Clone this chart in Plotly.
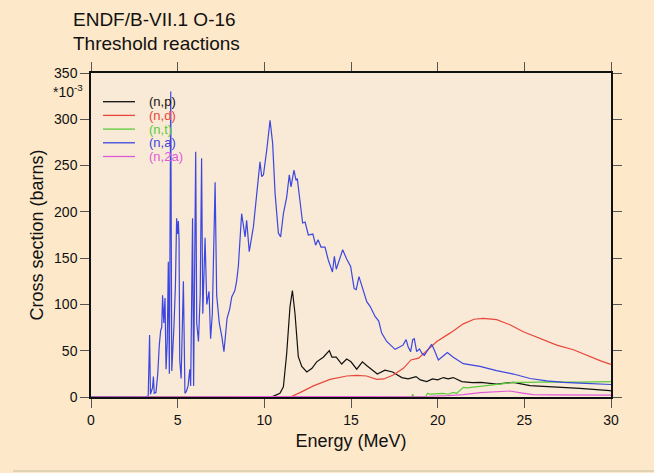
import plotly.graph_objects as go

# ---------------- data (cross sections in units of 1e-3 barns) ----------------
np_energy = [0, 10.4, 10.6, 10.9, 11.1, 11.29, 11.48, 11.62, 11.77, 11.96, 12.16, 12.45, 12.75,
             13.02, 13.4, 13.75, 13.9, 14.15, 14.46, 14.75, 15.0, 15.33, 15.66, 15.9, 16.52,
             16.96, 17.4, 17.93, 18.3, 18.75, 19.0, 19.37, 19.7, 20.0, 20.33, 20.6, 20.9,
             21.39, 22.0, 22.5, 23.4, 24.37, 25.33, 26.3, 27.2, 28.2, 29.94, 30.0]
np_xs = [0, 0, 1.5, 4, 11, 47, 97.5, 115, 90, 43.5, 33, 27, 31,
         38, 43, 50, 43, 43, 35.6, 41, 38, 30, 38, 34, 24.8,
         29, 27, 21, 19.5, 22, 18.5, 16.6, 19.5, 18.5, 21, 19.5, 21,
         16.6, 15.5, 15.8, 14, 15.8, 12.2, 11.5, 10.5, 9.4, 6.8, 6.7]

nd_energy = [0, 11.5, 12.06, 12.83, 13.79, 14.75, 15.33, 15.9, 16.48, 16.9, 17.44, 18.02, 18.46,
             18.9, 19.37, 19.95, 20.71, 21.48, 22.1, 22.63, 23.4, 24.17, 24.94, 25.9, 26.87,
             27.83, 28.79, 29.4, 29.94, 30.0]
nd_xs = [0, 0, 4.7, 12, 19, 22.7, 23.4, 22.7, 19, 19.5, 23.8, 31, 40,
         42, 50, 60, 69, 79, 84, 85, 83.5, 78, 70.5, 63, 56,
         51, 43.5, 39, 35.6, 35.5]

nt_energy = [0, 18.5, 18.56, 18.62, 19.3, 19.42, 19.6, 20.0, 20.3, 20.6, 20.9, 21.1, 21.29,
             21.48, 21.7, 22.5, 23.4, 24.37, 25.3, 26.3, 28.2, 30.0]
nt_xs = [0, 0, 3, 0, 0, 4, 3, 3.5, 4, 3, 5, 4, 7.5,
         10.4, 9.8, 11.5, 14, 15.8, 15.8, 16.3, 16.1, 16.6]

na_energy = [0, 3.1, 3.3, 3.38, 3.43, 3.55, 3.6, 3.65, 3.75, 3.85, 3.94, 4.02, 4.08, 4.13, 4.2,
             4.27, 4.33, 4.4, 4.46, 4.52, 4.6, 4.66, 4.79, 4.87, 4.94, 5.0, 5.04, 5.08, 5.12,
             5.2, 5.33, 5.38, 5.42, 5.5, 5.6, 5.7, 5.75, 5.86, 5.92, 6.04, 6.1, 6.2, 6.3, 6.38,
             6.45, 6.58, 6.68, 6.81, 6.9, 7.0, 7.16, 7.25, 7.4, 7.55, 7.67, 7.85, 8.0, 8.12,
             8.3, 8.4, 8.5, 8.69, 8.89, 8.98, 9.13, 9.37, 9.52, 9.75, 9.85, 9.95, 10.14, 10.33,
             10.48, 10.62, 10.81, 10.94, 11.1, 11.29, 11.44, 11.54, 11.71, 11.83, 11.9, 12.06,
             12.21, 12.35, 12.54, 12.8, 12.96, 13.1, 13.27, 13.5, 13.69, 13.93, 14.04, 14.15,
             14.3, 14.52, 14.75, 14.98, 15.18, 15.3, 15.46, 15.66, 15.91, 16.1, 16.39, 16.6,
             16.77, 17.06, 17.54, 17.8, 18.0, 18.18, 18.3, 18.44, 18.56, 18.65, 18.79, 18.95,
             19.1, 19.23, 19.45, 19.65, 19.8, 20.04, 20.3, 20.56, 20.9, 21.48, 22.44, 23.4,
             24.37, 25.33, 26.3, 27.25, 28.2, 29.94, 30.0]
na_xs = [0, 0, 1, 67, 3, 10, 22, 4, 5, 25, 56, 72, 75, 110, 80,
         107, 30, 60, 146, 25, 330, 28, 78, 120, 193, 176, 190, 170, 40,
         20, 125, 40, 4, 6, 12, 30, 12, 193, 12, 265, 80, 60, 110, 258,
         90, 172, 100, 114, 63, 90, 232, 110, 80, 65, 49, 85, 95, 108,
         115, 125, 141, 198, 173, 191, 157, 184, 209, 254, 238, 240, 267, 299,
         274, 220, 177, 173, 198, 216, 240, 227, 245, 234, 236, 213,
         188, 189, 175, 176, 164, 170, 162, 162, 148, 135, 152, 138,
         146, 159, 149, 141, 117, 116, 130, 117, 103, 98, 87, 82,
         69, 60, 51.5, 54, 56, 62, 54, 49, 62, 63, 49, 52,
         47, 45, 52, 57, 51, 40, 44, 48, 43, 36, 33, 28.5,
         24.8, 20, 17.5, 15.8, 15, 13.7, 13.5]

n2a_energy = [0, 18.2, 19.5, 20.6, 21.5, 22.44, 23.4, 24.17, 24.8, 25.5, 26.5, 28.0, 30.0]
n2a_xs = [0, 0, 0.8, 1.4, 2.5, 4.7, 5.8, 6.5, 4.5, 2.5, 2.2, 2, 2]

series_names = ["(n,p)", "(n,d)", "(n,t)", "(n,a)", "(n,2a)"]
series_colors = ["#111111", "#E8473C", "#5CCB3C", "#3C46E0", "#E05AD8"]
series_energy = [np_energy, nd_energy, nt_energy, na_energy, n2a_energy]
series_xs = [np_xs, nd_xs, nt_xs, na_xs, n2a_xs]

x_ticks = [0, 5, 10, 15, 20, 25, 30]
y_ticks = [0, 50, 100, 150, 200, 250, 300, 350]

FONT = "Liberation Sans, Arial, Helvetica, sans-serif"

fig = go.Figure()
for name, e, s, c in zip(series_names, series_energy, series_xs, series_colors):
    fig.add_trace(go.Scatter(x=e, y=s, mode="lines", name=name,
                             line=dict(color=c, width=1.2), showlegend=False))

# plot-area geometry (pixels) used for the hand-drawn legend
L, R, T, B = 91, 611, 73, 397
W, H = R - L, B - T


def px(xp):
    return (xp - L) / W


def py(yp):
    return (B - yp) / H


shapes = []
annotations = []
for i, (name, c) in enumerate(zip(series_names, series_colors)):
    yy = py(101.7 + 13.7 * i)
    shapes.append(dict(type="line", xref="paper", yref="paper",
                       x0=px(103), x1=px(135), y0=yy, y1=yy,
                       line=dict(color=c, width=1.3)))
    annotations.append(dict(text=name, xref="paper", yref="paper", x=px(147), y=yy,
                            xanchor="left", yanchor="middle", showarrow=False,
                            font=dict(size=13, color=c, family=FONT)))

# title lines
annotations.append(dict(text="ENDF/B-VII.1 O-16", xref="paper", yref="paper",
                        x=px(71), y=py(20), xanchor="left", yanchor="middle",
                        showarrow=False, font=dict(size=19, color="#111", family=FONT)))
annotations.append(dict(text="Threshold reactions", xref="paper", yref="paper",
                        x=px(71), y=py(43), xanchor="left", yanchor="middle",
                        showarrow=False, font=dict(size=19, color="#111", family=FONT)))
# scale factor
annotations.append(dict(text="*10<sup>-3</sup>", xref="paper", yref="paper",
                        x=px(85), y=py(91), xanchor="right", yanchor="middle",
                        showarrow=False, font=dict(size=14, color="#111", family=FONT)))

# bottom border line of the picture
shapes.append(dict(type="line", xref="paper", yref="paper", x0=px(13), x1=px(660),
                   y0=py(471), y1=py(471), line=dict(color="#E2D2B4", width=2)))

fig.update_layout(
    width=654, height=473,
    margin=dict(l=L, r=654 - R, t=T, b=473 - B),
    paper_bgcolor="#FDE8C9",
    plot_bgcolor="#F8EAD6",
    font=dict(family=FONT, size=14, color="#111"),
    shapes=shapes,
    annotations=annotations,
    showlegend=False,
)
axis_common = dict(showline=True, linecolor="#111", linewidth=1.5, mirror="ticks",
                   ticks="outside", ticklen=9, tickwidth=1, tickcolor="#555",
                   showgrid=False, zeroline=False,
                   tickfont=dict(size=14, family=FONT, color="#111"))
fig.update_xaxes(range=[0, 30], tickvals=x_ticks, ticktext=[str(v) for v in x_ticks],
                 title=dict(text="Energy (MeV)", font=dict(size=18, family=FONT), standoff=8),
                 **axis_common)
fig.update_yaxes(range=[0, 350], tickvals=y_ticks, ticktext=[str(v) for v in y_ticks],
                 title=dict(text="Cross section (barns)", font=dict(size=18, family=FONT), standoff=6),
                 **axis_common)

fig.write_html("out.html")
